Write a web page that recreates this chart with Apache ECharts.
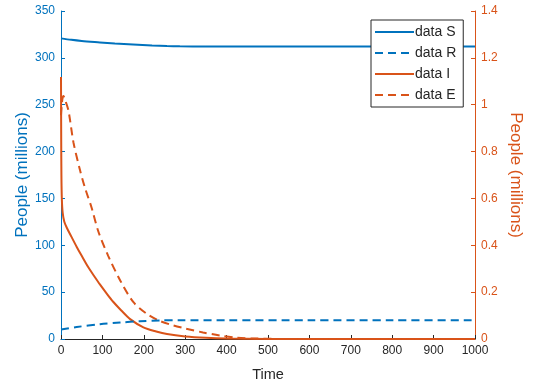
<!DOCTYPE html>
<html>
<head>
<meta charset="utf-8">
<script src="https://cdn.jsdelivr.net/npm/echarts@6/dist/echarts.min.js"></script>
<style>html,body{margin:0;padding:0;background:#fff;}#c{width:533px;height:383px;}</style>
</head>
<body>
<div id="c"></div>
<script>
// ---- data ----
var xTicks = [0, 100, 200, 300, 400, 500, 600, 700, 800, 900, 1000];
var leftTicks = [0, 50, 100, 150, 200, 250, 300, 350];
var rightTicks = [0, 0.2, 0.4, 0.6, 0.8, 1, 1.2, 1.4];

var timeS = [0, 25, 50, 94, 130, 174, 220, 256, 287, 350, 450, 600, 800, 1000];
var dataS = [320.8, 319.2, 318.0, 316.5, 315.3, 314.2, 313.2, 312.6, 312.3, 312.1, 312.0, 312.0, 312.0, 312.0];

var timeR = [0, 38, 94, 143, 191, 239, 287, 400, 600, 800, 1000];
var dataR = [10.2, 12.8, 15.8, 17.6, 19.0, 19.8, 20.0, 20.1, 20.1, 20.1, 20.1];

var timeI = [0, 0.5, 1, 2, 4, 8, 14, 25, 38, 50, 66, 80, 94, 110, 126, 145, 167, 199, 230, 256, 300, 350, 400, 500, 600, 1000];
var dataI = [1.118, 0.85, 0.70, 0.60, 0.54, 0.50, 0.475, 0.437, 0.393, 0.355, 0.306, 0.269, 0.233, 0.195, 0.159, 0.123, 0.085, 0.05, 0.032, 0.021, 0.011, 0.005, 0.002, 0.0005, 0, 0];

var timeE = [0, 3, 6, 10, 18, 30, 46, 58, 74, 90, 114, 143, 175, 207, 239, 271, 300, 343, 384, 424, 470, 550, 1000];
var dataE = [0.955, 1.02, 1.037, 1.02, 0.975, 0.84, 0.72, 0.645, 0.56, 0.46, 0.355, 0.25, 0.157, 0.108, 0.077, 0.058, 0.045, 0.028, 0.015, 0.006, 0.002, 0, 0];

var names = ['data S', 'data R', 'data I', 'data E'];

function pairs(t, v) { return t.map(function (x, i) { return [x, v[i]]; }); }

var BLUE = '#0072BD', ORANGE = '#D95319', DARK = '#262626';
var FONT = 'Liberation Sans, Arial, Helvetica, sans-serif';

var chart = echarts.init(document.getElementById('c'), null, {renderer: 'canvas'});
chart.setOption({
  animation: false,
  backgroundColor: '#fff',
  textStyle: {fontFamily: FONT},
  grid: {left: 61, right: 58, top: 11, bottom: 44, containLabel: false, outerBoundsMode: 'none'},
  legend: {
    show: true,
    data: names,
    orient: 'vertical',
    left: 371, top: 20,
    itemWidth: 39, itemHeight: 14, itemGap: 7,
    padding: [5, 7, 5, 3],
    backgroundColor: '#fff',
    borderColor: DARK, borderWidth: 1, borderRadius: 0,
    itemStyle: {opacity: 0},
    textStyle: {fontSize: 14, color: DARK, fontFamily: FONT, padding: [0, 0, 0, -4]}
  },
  xAxis: {
    type: 'value', min: 0, max: 1000, interval: 100,
    name: 'Time', nameLocation: 'middle', nameGap: 28, nameMoveOverlap: false,
    nameTextStyle: {fontSize: 14.5, color: DARK, fontFamily: FONT},
    axisLine: {show: true, lineStyle: {color: DARK, width: 1}},
    axisTick: {show: true, inside: true, length: 4, lineStyle: {color: DARK}},
    axisLabel: {color: DARK, fontSize: 12, fontFamily: FONT, margin: 6,
      formatter: function (v) { return String(v); }},
    splitLine: {show: false}
  },
  yAxis: [{
    type: 'value', position: 'left', min: 0, max: 350, interval: 50,
    name: 'People (millions)', nameLocation: 'middle', nameGap: 30, nameMoveOverlap: false,
    nameTextStyle: {fontSize: 17, color: BLUE, fontFamily: FONT},
    axisLine: {show: true, lineStyle: {color: BLUE, width: 1}},
    axisTick: {show: true, inside: true, length: 4, lineStyle: {color: BLUE}},
    axisLabel: {color: BLUE, fontSize: 12, fontFamily: FONT, margin: 6},
    splitLine: {show: false}
  }, {
    type: 'value', position: 'right', min: 0, max: 1.4, interval: 0.2,
    name: 'People (millions)', nameLocation: 'middle', nameGap: 32, nameRotate: -90, nameMoveOverlap: false,
    nameTextStyle: {fontSize: 17, color: ORANGE, fontFamily: FONT},
    axisLine: {show: true, lineStyle: {color: ORANGE, width: 1}},
    axisTick: {show: true, inside: true, length: 4, lineStyle: {color: ORANGE}},
    axisLabel: {color: ORANGE, fontSize: 12, fontFamily: FONT, margin: 6,
      formatter: function (v) { return String(Math.round(v * 10) / 10); }},
    splitLine: {show: false}
  }],
  series: [
    {name: names[0], type: 'line', yAxisIndex: 0, data: pairs(timeS, dataS), smooth: 0.3, symbol: 'none',
     lineStyle: {color: BLUE, width: 2}, itemStyle: {color: BLUE}, z: 3},
    {name: names[1], type: 'line', yAxisIndex: 0, data: pairs(timeR, dataR), smooth: 0.3, symbol: 'none',
     lineStyle: {color: BLUE, width: 2, type: [8, 5]}, itemStyle: {color: BLUE}, z: 3},
    {name: names[2], type: 'line', yAxisIndex: 1, data: pairs(timeI, dataI), smooth: 0.3, symbol: 'none',
     lineStyle: {color: ORANGE, width: 2}, itemStyle: {color: ORANGE}, z: 2},
    {name: names[3], type: 'line', yAxisIndex: 1, data: pairs(timeE, dataE), smooth: 0.3, symbol: 'none',
     lineStyle: {color: ORANGE, width: 2, type: [8, 5]}, itemStyle: {color: ORANGE}, z: 2}
  ]
});
</script>
</body>
</html>
